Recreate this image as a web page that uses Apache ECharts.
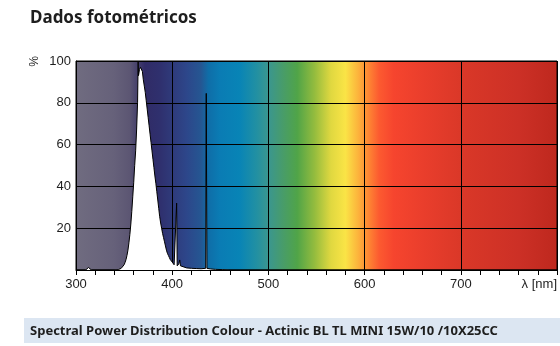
<!DOCTYPE html>
<html>
<head>
<meta charset="utf-8">
<script src="https://cdn.jsdelivr.net/npm/echarts@6/dist/echarts.min.js"></script>
<style>
html,body{margin:0;padding:0;background:#fff;}
#chart{width:560px;height:346px;}
</style>
</head>
<body>
<div id="chart"></div>
<script>
// ---- data ----
const chartTitle = 'Dados fotométricos';
const captionText = 'Spectral Power Distribution Colour - Actinic BL TL MINI 15W/10 /10X25CC';
const xTicks = [300, 400, 500, 600, 700, 800];
const yTicks = [20, 40, 60, 80, 100];
const wavelengths = [
  300, 310, 312, 313, 314, 316, 340, 344, 345, 346, 347, 348, 349, 350,
  351, 352, 353, 354, 355, 356, 357, 358, 359, 360, 361, 362, 363, 364,
  364.6, 365, 366, 367, 368, 369, 370, 371, 372, 373, 374, 375, 376, 377,
  378, 379, 380, 381, 382, 383, 384, 385, 386, 387, 388, 389, 390, 391,
  392, 393, 394, 395, 396, 397, 398, 399, 400, 401, 402, 403, 404, 404.6,
  405.2, 406, 407, 407.8, 408.6, 410, 415, 420, 425, 430, 434.8, 435.4,
  436.1, 440, 445, 452, 460, 800
];
const power = [
  0, 0, 0.3, 1.2, 0.3, 0, 0, 0.2, 0.3, 0.5, 0.8, 1.1, 1.6, 2.5,
  3.6, 5, 7, 9.5, 13, 17, 22, 28, 35, 42, 50, 57, 67, 80,
  100, 93, 96, 97, 97.5, 95, 91, 88, 85, 81, 77, 73, 69, 65,
  61, 57, 53, 49, 45, 41.5, 37.5, 33.5, 29.5, 25.5, 22.5, 20, 17.5, 15.5,
  13.5, 11.5, 9.5, 8, 7, 6, 5, 4.3, 3.8, 3, 2.5, 2, 1.6, 32,
  2, 1.5, 3, 4.8, 2, 1.2, 1, 0.8, 0.7, 0.6, 0.8, 84.5,
  0.8, 0.5, 0.3, 0.2, 0, 0
];
// spectrum colour band (wavelength -> colour)
const bandNm = [300, 340, 356, 372, 388, 400, 415, 430, 438, 450, 470, 488, 500, 515, 530, 548, 565, 580, 593, 602, 615, 630, 660, 700, 760, 800];
const bandColor = ['#706c80', '#66617a', '#5c5673', '#302b66', '#2f306e', '#2f3a7a', '#2d468a', '#255692', '#0f6ea8', '#0a7cb4', '#0884b6', '#2290a2', '#3a9690', '#489c6a', '#50a448', '#94bc3e', '#e0d840', '#fae446', '#fcb43c', '#fe8e34', '#fc5a30', '#f6452e', '#ea3e2c', '#da3828', '#cc3026', '#be281e'];

const chart = echarts.init(document.getElementById('chart'));
const xMin = xTicks[0], xMax = xTicks[xTicks.length - 1];
const stops = bandNm.map((nm, i) => ({offset: (nm - xMin) / (xMax - xMin), color: bandColor[i]}));

const option = {
  animation: false,
  title: {
    text: chartTitle, left: 25, top: 5,
    textStyle: {fontFamily: 'Noto Sans', fontSize: 17, fontWeight: 'bold', color: '#1e1e1e'}
  },
  grid: {
    left: 76, right: 2, top: 61, bottom: 76, show: true,
    backgroundColor: new echarts.graphic.LinearGradient(0, 0, 1, 0, stops),
    borderColor: '#000', borderWidth: 1
  },
  xAxis: {
    type: 'value', min: xMin, max: xMax, interval: 100,
    name: 'λ [nm]', nameLocation: 'end', nameGap: 0,
    nameTextStyle: {fontFamily: 'Liberation Sans', fontSize: 13, color: '#1e1e1e', align: 'right', verticalAlign: 'top', padding: [8, 0, 0, 0]},
    axisLine: {show: true, lineStyle: {color: '#000', width: 1}},
    axisTick: {show: true, length: 5, lineStyle: {color: '#000'}},
    minorTick: {show: true, splitNumber: 5, length: 5, lineStyle: {color: '#000'}},
    splitLine: {show: true, lineStyle: {color: '#000', width: 1}},
    axisLabel: {
      fontFamily: 'Liberation Sans', fontSize: 13, color: '#1e1e1e', margin: 8,
      formatter: v => (v === xMax ? '' : String(v))
    }
  },
  yAxis: {
    type: 'value', min: 0, max: 100, interval: 20,
    axisLine: {show: true, lineStyle: {color: '#000'}},
    axisTick: {show: false},
    splitLine: {show: true, lineStyle: {color: '#000', width: 1}},
    axisLabel: {
      fontFamily: 'Liberation Sans', fontSize: 13, color: '#1e1e1e', margin: 5,
      formatter: v => (yTicks.indexOf(v) >= 0 ? String(v) : '')
    }
  },
  graphic: [
    {type: 'text', x: 38, y: 56, rotation: -Math.PI / 2,
     style: {text: '%', font: '12px "Liberation Sans"', fill: '#1e1e1e'}},
    {type: 'rect', shape: {x: 24, y: 318, width: 536, height: 25}, style: {fill: '#dce6f2'}},
    {type: 'text', x: 30, y: 331,
     style: {text: captionText, font: 'bold 13px "Noto Sans"', fill: '#1e1e1e', verticalAlign: 'middle'}}
  ],
  series: [{
    type: 'line',
    data: wavelengths.map((w, i) => [w, power[i]]),
    symbol: 'none',
    lineStyle: {color: '#000', width: 1},
    areaStyle: {color: '#fff', opacity: 1},
    z: 3
  }]
};
chart.setOption(option);
</script>
</body>
</html>
